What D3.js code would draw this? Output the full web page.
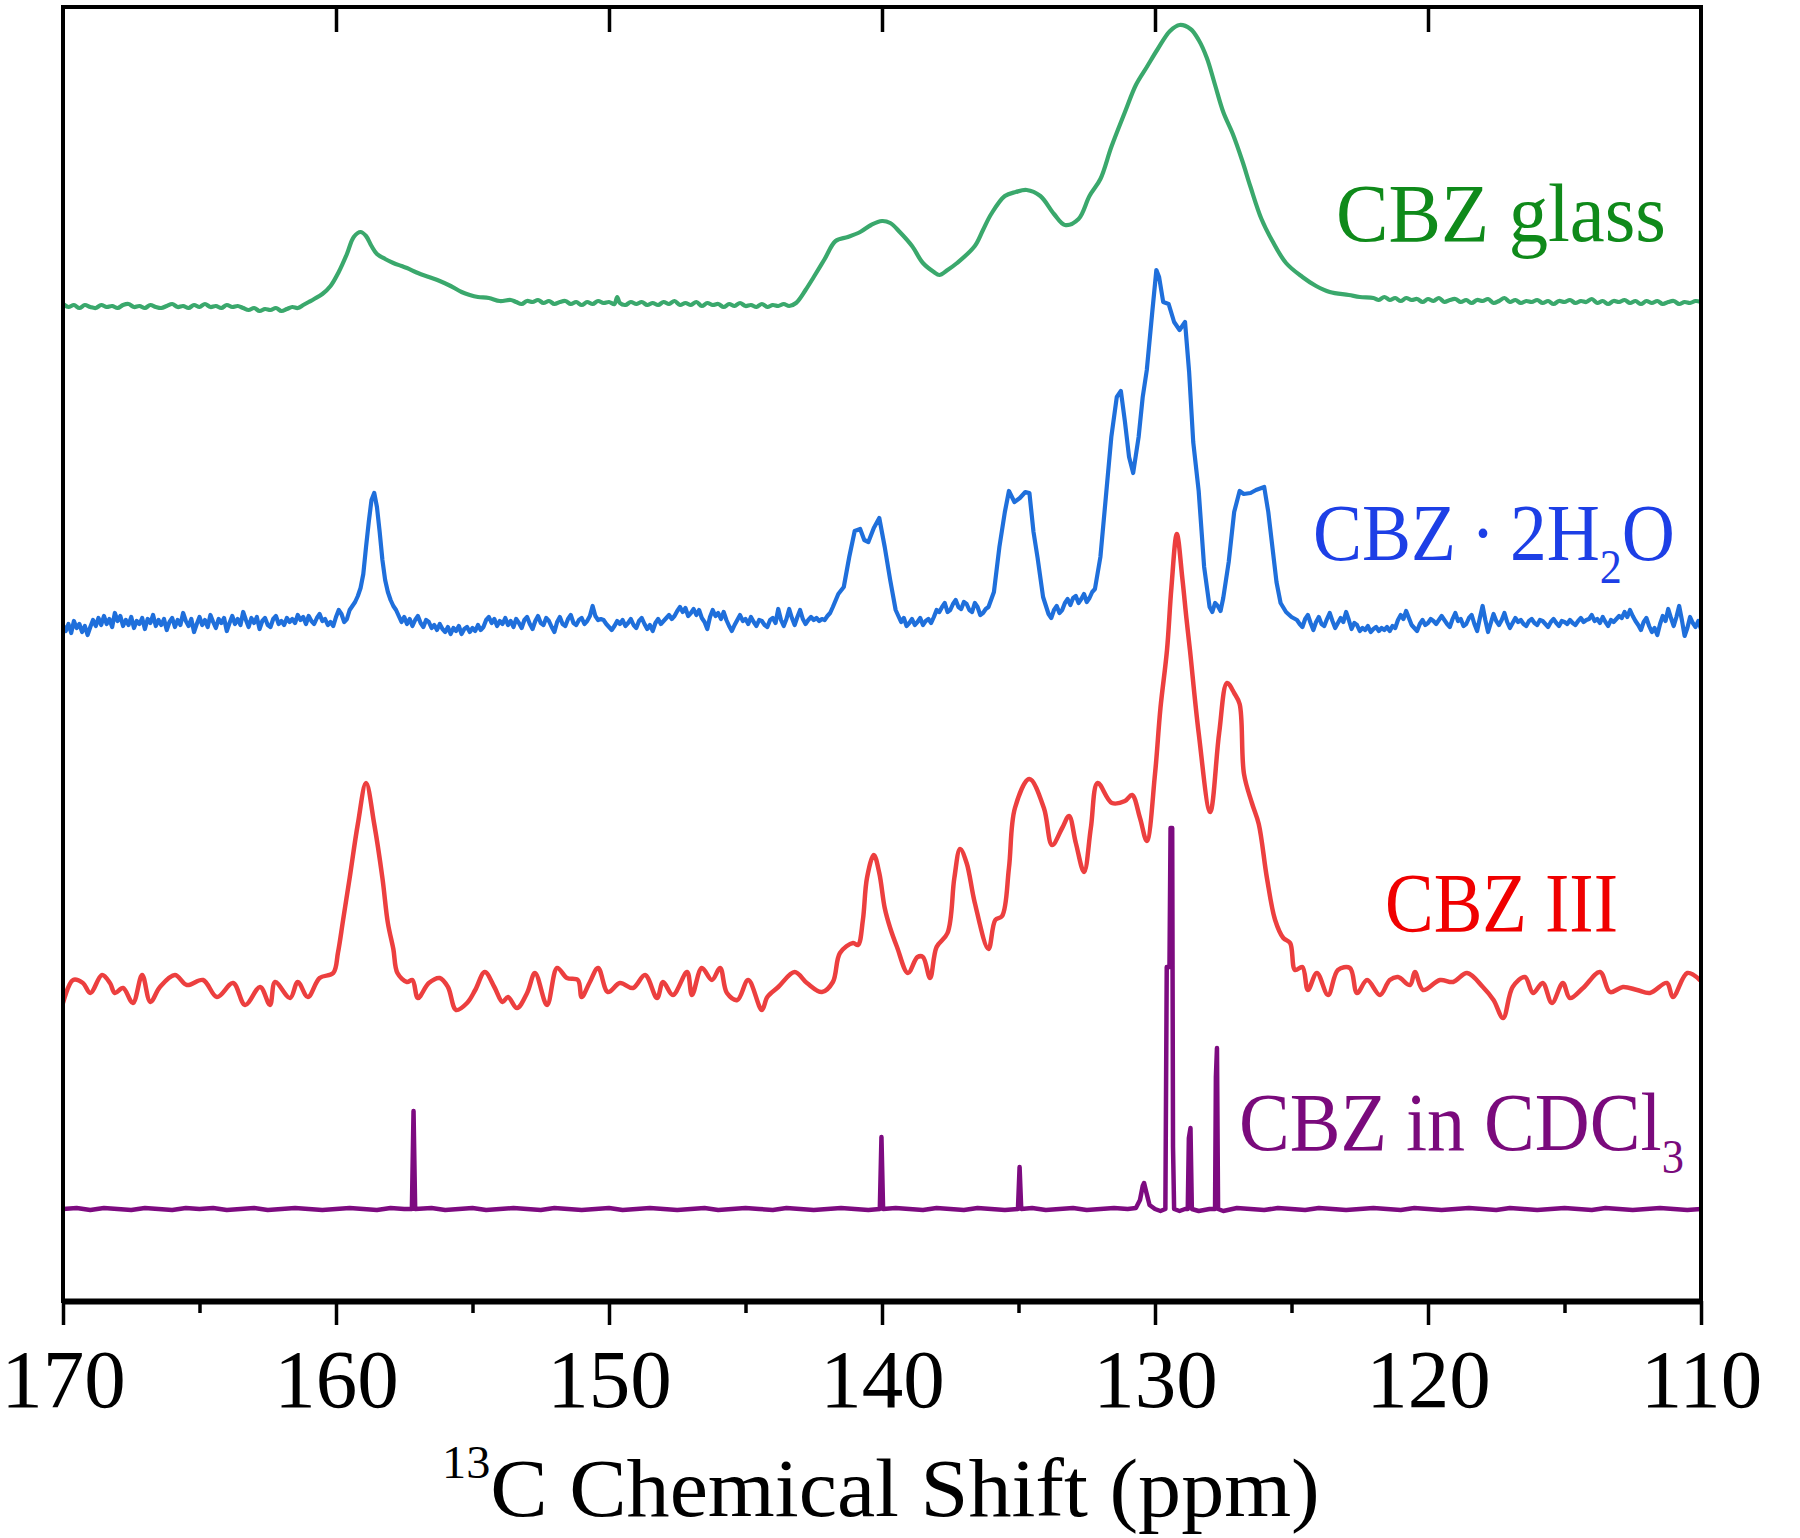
<!DOCTYPE html>
<html><head><meta charset="utf-8">
<script src="https://cdn.jsdelivr.net/npm/d3@7"></script>
<style>body{margin:0;background:#fff}</style>
</head><body>
<svg id="chart" width="1800" height="1538"></svg>
<script>
// ---------------- DATA ----------------
const xTicks = [170, 160, 150, 140, 130, 120, 110];
const xMinorTicks = [165, 155, 145, 135, 125, 115];
const xTopTicks = [160, 150, 140, 130, 120];
const axisTitleSup = "13";
const axisTitleMain = "C Chemical Shift (ppm)";

const seriesNames = ["CBZ glass", "CBZ·2H2O", "CBZ III", "CBZ in CDCl3"];
const seriesOffsets = [99.7, 67.9, 31.3, 9.2];   // vertical stacking offsets (a.u.)

// [ppm, intensity a.u.]
const glassData = [[170.0,0.0],[169.8,-0.3],[169.6,-0.1],[169.4,-0.4],[169.2,-0.1],[169.0,-0.3],[168.8,-0.4],[168.6,-0.1],[168.4,-0.3],[168.2,-0.2],[168.0,-0.4],[167.8,-0.1],[167.6,0.0],[167.4,-0.3],[167.2,-0.2],[167.0,-0.4],[166.8,-0.1],[166.6,-0.3],[166.4,-0.4],[166.2,-0.2],[166.0,0.0],[165.8,-0.3],[165.6,-0.2],[165.4,-0.4],[165.2,-0.1],[165.0,-0.3],[164.8,0.0],[164.6,-0.3],[164.4,-0.2],[164.2,-0.4],[164.0,-0.1],[163.8,-0.3],[163.6,-0.2],[163.4,-0.4],[163.2,-0.6],[163.0,-0.4],[162.8,-0.7],[162.6,-0.5],[162.4,-0.6],[162.2,-0.4],[162.0,-0.7],[161.8,-0.5],[161.6,-0.3],[161.4,-0.4],[161.2,-0.1],[161.0,0.2],[160.8,0.5],[160.5,1.0],[160.2,1.8],[159.9,3.2],[159.6,5.0],[159.35,6.7],[159.1,7.2],[158.9,6.8],[158.7,5.8],[158.5,5.0],[158.2,4.5],[157.9,4.1],[157.6,3.8],[157.4,3.6],[157.0,3.1],[156.6,2.7],[156.2,2.3],[155.8,1.8],[155.4,1.2],[155.1,0.9],[154.8,0.7],[154.4,0.6],[154.0,0.3],[153.6,0.4],[153.4,0.2],[153.2,0.0],[153.0,0.3],[152.8,0.2],[152.6,0.4],[152.4,0.1],[152.2,0.3],[152.0,0.0],[151.8,0.2],[151.6,0.3],[151.4,0.0],[151.2,0.2],[151.0,-0.1],[150.8,0.2],[150.6,0.0],[150.4,0.3],[150.2,0.1],[150.0,0.2],[149.8,0.0],[149.7,0.7],[149.6,0.1],[149.4,-0.1],[149.2,0.2],[149.0,0.0],[148.8,0.2],[148.6,-0.1],[148.4,0.1],[148.2,-0.1],[148.0,0.2],[147.8,0.0],[147.6,0.3],[147.4,-0.1],[147.2,0.1],[147.0,-0.1],[146.8,0.2],[146.6,-0.2],[146.4,0.1],[146.2,-0.1],[146.0,0.0],[145.8,-0.3],[145.6,0.0],[145.4,-0.2],[145.2,0.1],[145.0,-0.2],[144.8,-0.1],[144.6,-0.3],[144.4,0.0],[144.2,-0.3],[144.0,-0.1],[143.8,-0.2],[143.6,0.0],[143.4,-0.2],[143.15,0.1],[142.8,1.4],[142.5,2.7],[142.1,4.5],[141.7,6.3],[141.25,6.7],[140.8,7.2],[140.4,7.9],[140.0,8.3],[139.7,8.1],[139.35,7.2],[138.9,5.8],[138.5,4.1],[138.1,3.2],[137.9,2.9],[137.6,3.4],[137.25,4.1],[136.6,5.8],[136.3,7.4],[136.0,9.0],[135.5,10.8],[135.1,11.2],[134.7,11.4],[134.2,10.8],[133.7,9.0],[133.3,7.9],[132.8,8.5],[132.4,10.8],[132.0,12.5],[131.6,15.7],[131.1,19.2],[130.7,21.9],[130.3,23.7],[129.9,25.5],[129.45,27.3],[129.1,27.9],[128.7,27.5],[128.4,26.4],[128.1,24.6],[127.8,21.9],[127.5,19.2],[127.15,17.0],[126.8,14.3],[126.5,11.7],[126.1,8.5],[125.7,6.3],[125.2,4.1],[124.6,2.7],[124.1,1.8],[123.6,1.2],[122.9,0.9],[122.5,0.7],[122.0,0.6],[121.8,0.4],[121.6,0.7],[121.4,0.4],[121.2,0.6],[121.0,0.3],[120.8,0.6],[120.6,0.4],[120.4,0.5],[120.2,0.2],[120.0,0.5],[119.8,0.3],[119.6,0.6],[119.4,0.2],[119.2,0.4],[119.0,0.5],[118.8,0.2],[118.6,0.4],[118.4,0.1],[118.2,0.4],[118.0,0.3],[117.8,0.5],[117.6,0.1],[117.4,0.3],[117.2,0.6],[117.0,0.2],[116.8,0.4],[116.6,0.1],[116.4,0.3],[116.2,0.2],[116.0,0.4],[115.8,0.1],[115.6,0.3],[115.4,0.0],[115.2,0.3],[115.0,0.2],[114.8,0.4],[114.6,0.1],[114.4,0.3],[114.2,0.2],[114.0,0.5],[113.8,0.1],[113.6,0.3],[113.4,0.0],[113.2,0.3],[113.0,0.2],[112.8,0.4],[112.6,0.1],[112.4,0.3],[112.2,0.0],[112.0,0.3],[111.8,0.1],[111.6,0.3],[111.4,0.0],[111.2,0.2],[111.0,0.3],[110.8,0.0],[110.6,0.2],[110.4,0.1],[110.2,0.3],[110.0,0.2]];

const hydrateData = [[170.0,-0.3],[169.9,-0.9],[169.8,-0.2],[169.7,-1.1],[169.6,0.1],[169.5,-0.6],[169.4,-0.2],[169.3,-1.0],[169.2,-0.4],[169.1,-1.3],[169.0,-0.5],[168.9,0.2],[168.8,-0.4],[168.7,0.4],[168.6,-0.3],[168.5,0.6],[168.4,-0.2],[168.3,0.3],[168.2,-0.5],[168.1,0.9],[168.0,0.1],[167.9,0.6],[167.8,-0.4],[167.7,0.2],[167.6,-0.3],[167.5,0.5],[167.4,-0.6],[167.3,0.1],[167.2,-0.2],[167.1,0.4],[167.0,-0.7],[166.9,0.3],[166.8,-0.1],[166.7,0.7],[166.6,-0.4],[166.5,0.2],[166.4,-0.3],[166.3,0.3],[166.2,-0.8],[166.1,0.0],[166.0,0.4],[165.9,-0.5],[165.8,0.2],[165.7,-0.3],[165.6,0.9],[165.5,0.1],[165.4,-0.4],[165.3,0.3],[165.2,-1.0],[165.1,-0.2],[165.0,0.5],[164.9,-0.3],[164.8,0.2],[164.7,-0.5],[164.6,0.7],[164.5,0.0],[164.4,-0.6],[164.3,0.3],[164.2,-0.1],[164.1,0.4],[164.0,-0.9],[163.9,-0.1],[163.8,0.6],[163.7,-0.2],[163.6,0.3],[163.5,-0.3],[163.4,1.0],[163.3,0.2],[163.2,-0.5],[163.1,0.4],[163.0,-0.1],[162.9,0.5],[162.8,-0.7],[162.7,0.1],[162.6,0.4],[162.5,-0.3],[162.4,-0.5],[162.3,0.3],[162.2,0.6],[162.1,-0.2],[162.0,0.1],[161.9,-0.3],[161.8,0.4],[161.7,0.0],[161.6,0.3],[161.5,-0.1],[161.4,0.7],[161.3,0.2],[161.2,0.5],[161.1,-0.2],[161.0,0.6],[160.9,0.1],[160.8,-0.2],[160.7,0.4],[160.6,0.8],[160.5,0.1],[160.4,0.3],[160.3,-0.3],[160.2,0.0],[160.1,-0.4],[160.0,0.5],[159.9,1.2],[159.8,0.8],[159.7,0.0],[159.6,0.3],[159.5,1.2],[159.4,1.6],[159.3,2.0],[159.2,2.6],[159.1,3.4],[159.0,4.8],[158.9,7.5],[158.8,10.0],[158.7,12.2],[158.6,12.9],[158.5,11.5],[158.4,9.0],[158.3,6.2],[158.2,4.2],[158.1,3.0],[158.0,2.2],[157.9,1.6],[157.8,1.2],[157.7,0.6],[157.6,0.0],[157.5,0.5],[157.4,-0.2],[157.3,0.3],[157.2,-0.4],[157.1,0.2],[157.0,0.6],[156.9,-0.1],[156.8,-0.5],[156.7,0.2],[156.6,0.0],[156.5,-0.6],[156.4,-0.3],[156.3,-0.8],[156.2,-0.2],[156.1,-0.7],[156.0,-1.0],[155.9,-0.5],[155.8,-1.2],[155.7,-0.6],[155.6,-0.9],[155.5,-0.4],[155.4,-1.2],[155.3,-0.7],[155.2,-0.5],[155.1,-1.0],[155.0,-0.6],[154.9,-0.9],[154.8,-0.3],[154.7,-0.8],[154.6,-0.5],[154.5,0.2],[154.4,0.5],[154.3,-0.1],[154.2,0.3],[154.1,-0.4],[154.0,0.1],[153.9,-0.2],[153.8,0.4],[153.7,-0.3],[153.6,0.1],[153.5,-0.5],[153.4,0.3],[153.3,-0.1],[153.2,-0.6],[153.1,0.2],[153.0,0.5],[152.9,-0.2],[152.8,-0.7],[152.7,0.1],[152.6,0.6],[152.5,-0.1],[152.4,-0.3],[152.3,0.4],[152.2,0.1],[152.1,-0.5],[152.0,-1.0],[151.9,0.0],[151.8,0.5],[151.7,-0.2],[151.6,-0.4],[151.5,0.3],[151.4,0.7],[151.3,-0.1],[151.2,-0.3],[151.1,0.2],[151.0,0.4],[150.9,-0.2],[150.8,0.1],[150.7,0.6],[150.6,1.6],[150.5,0.6],[150.4,0.2],[150.3,0.3],[150.2,0.2],[150.1,-0.2],[150.0,-0.5],[149.9,-0.8],[149.8,-0.4],[149.7,0.1],[149.6,-0.2],[149.5,0.2],[149.4,-0.4],[149.3,-0.1],[149.2,0.3],[149.1,-0.3],[149.0,-0.6],[148.9,0.1],[148.8,0.4],[148.7,-0.2],[148.6,-0.7],[148.5,-0.3],[148.4,-0.9],[148.3,-0.1],[148.2,0.3],[148.1,-0.2],[148.0,0.1],[147.9,0.4],[147.8,0.7],[147.7,0.3],[147.6,0.6],[147.5,1.1],[147.4,1.5],[147.3,1.0],[147.2,1.4],[147.1,0.6],[147.0,0.9],[146.9,1.3],[146.8,0.7],[146.7,1.2],[146.6,0.4],[146.5,0.0],[146.4,-0.7],[146.3,0.5],[146.2,1.2],[146.1,0.6],[146.0,0.9],[145.9,0.3],[145.8,1.0],[145.7,0.2],[145.6,-0.4],[145.5,-0.9],[145.4,-0.3],[145.3,0.2],[145.2,0.7],[145.1,0.1],[145.0,0.3],[144.9,-0.2],[144.8,0.5],[144.7,0.0],[144.6,-0.4],[144.5,0.2],[144.4,0.1],[144.3,-0.3],[144.2,-0.5],[144.1,0.2],[144.0,0.4],[143.9,-0.1],[143.8,1.3],[143.7,0.2],[143.6,-0.4],[143.5,0.3],[143.4,1.3],[143.3,0.4],[143.2,-0.3],[143.1,0.5],[143.0,1.2],[142.9,0.3],[142.8,-0.2],[142.7,0.2],[142.6,0.5],[142.5,0.2],[142.4,0.4],[142.3,0.1],[142.2,0.3],[142.1,0.2],[142.0,0.6],[141.9,0.9],[141.8,1.5],[141.6,2.8],[141.4,3.5],[141.2,6.5],[141.0,9.1],[140.8,9.3],[140.65,8.2],[140.5,8.0],[140.3,9.4],[140.1,10.4],[139.9,7.5],[139.7,4.2],[139.5,1.2],[139.4,0.6],[139.3,0.0],[139.2,0.4],[139.1,-0.4],[139.0,-0.1],[138.9,0.3],[138.8,-0.3],[138.7,0.0],[138.6,0.4],[138.5,-0.3],[138.4,0.1],[138.3,0.3],[138.2,-0.1],[138.1,0.5],[138.0,1.2],[137.9,1.0],[137.8,1.5],[137.7,1.9],[137.6,1.0],[137.5,1.2],[137.4,1.8],[137.3,2.2],[137.2,1.5],[137.1,1.3],[137.0,2.0],[136.9,1.8],[136.8,1.2],[136.7,1.0],[136.6,1.9],[136.5,1.5],[136.4,0.7],[136.3,0.9],[136.2,1.3],[136.1,1.5],[135.9,3.0],[135.7,7.5],[135.5,11.0],[135.35,13.1],[135.15,12.0],[134.95,12.4],[134.75,13.0],[134.6,12.9],[134.45,9.0],[134.3,6.4],[134.1,2.5],[133.9,0.8],[133.8,0.4],[133.7,1.2],[133.6,1.6],[133.5,0.9],[133.4,1.2],[133.3,1.9],[133.2,2.3],[133.1,1.7],[133.0,2.4],[132.9,2.6],[132.8,1.9],[132.7,2.3],[132.6,2.8],[132.5,2.0],[132.4,2.4],[132.3,3.0],[132.2,3.3],[132.0,6.5],[131.8,12.5],[131.6,18.5],[131.4,22.5],[131.25,23.1],[131.1,20.0],[130.95,16.5],[130.8,14.9],[130.6,18.5],[130.45,22.5],[130.3,25.2],[130.1,31.0],[129.95,35.2],[129.85,34.5],[129.7,32.0],[129.5,31.8],[129.3,30.0],[129.1,29.2],[128.9,30.0],[128.75,25.0],[128.6,18.0],[128.4,13.1],[128.2,5.5],[128.0,1.5],[127.9,1.0],[127.8,1.9],[127.7,1.6],[127.6,1.1],[127.5,2.4],[127.3,6.0],[127.1,11.0],[126.9,13.1],[126.75,12.8],[126.5,12.9],[126.3,13.2],[126.0,13.5],[125.85,11.0],[125.7,7.5],[125.55,4.0],[125.4,1.9],[125.2,1.0],[125.0,0.5],[124.8,0.2],[124.7,-0.2],[124.6,-0.5],[124.5,0.3],[124.4,0.7],[124.3,-0.1],[124.2,-0.8],[124.1,0.0],[124.0,0.5],[123.9,-0.2],[123.8,-0.4],[123.7,0.3],[123.6,0.9],[123.5,0.1],[123.4,-0.6],[123.3,-0.1],[123.2,0.4],[123.1,0.0],[123.0,1.0],[122.9,0.2],[122.8,-0.7],[122.7,-0.1],[122.6,-0.3],[122.5,-0.9],[122.4,-0.6],[122.3,-0.8],[122.2,-0.4],[122.1,-1.0],[122.0,-0.7],[121.9,-0.5],[121.8,-0.9],[121.7,-0.6],[121.6,-0.8],[121.5,-0.5],[121.4,-0.9],[121.3,-0.4],[121.2,-0.6],[121.1,0.2],[121.0,0.7],[120.9,0.3],[120.8,1.1],[120.7,0.4],[120.6,-0.3],[120.5,-0.6],[120.4,-0.9],[120.3,-0.2],[120.2,0.2],[120.1,-0.3],[120.0,-0.1],[119.9,0.3],[119.8,0.1],[119.7,-0.2],[119.6,0.2],[119.5,0.6],[119.4,0.2],[119.3,-0.2],[119.2,-0.5],[119.1,0.3],[119.0,0.9],[118.9,0.1],[118.8,0.3],[118.7,-0.4],[118.6,-0.2],[118.5,0.4],[118.4,0.7],[118.3,-0.2],[118.2,-0.9],[118.1,0.4],[118.0,1.6],[117.9,0.2],[117.8,-1.0],[117.7,-0.1],[117.6,0.8],[117.5,0.1],[117.4,-0.3],[117.3,0.2],[117.2,0.9],[117.1,0.0],[117.0,-0.6],[116.9,-0.1],[116.8,0.4],[116.7,0.0],[116.6,0.2],[116.5,-0.2],[116.4,-0.4],[116.3,0.1],[116.2,0.3],[116.1,-0.1],[116.0,-0.3],[115.9,0.2],[115.8,0.1],[115.7,-0.2],[115.6,-0.5],[115.5,0.0],[115.4,0.3],[115.3,-0.1],[115.2,-0.4],[115.1,0.1],[115.0,0.0],[114.9,-0.2],[114.8,0.2],[114.7,-0.1],[114.6,-0.3],[114.5,0.1],[114.4,0.4],[114.3,0.0],[114.2,0.2],[114.1,0.3],[114.0,0.7],[113.9,0.1],[113.8,0.3],[113.7,-0.1],[113.6,0.5],[113.5,0.0],[113.4,-0.4],[113.3,0.2],[113.2,0.0],[113.1,0.3],[113.0,0.6],[112.9,0.4],[112.8,1.0],[112.7,0.5],[112.6,1.2],[112.5,0.6],[112.4,0.1],[112.3,-0.3],[112.2,-0.8],[112.1,0.0],[112.0,0.4],[111.9,-0.4],[111.8,-1.0],[111.7,-0.6],[111.6,-1.3],[111.5,-0.2],[111.4,0.6],[111.3,0.1],[111.2,1.3],[111.1,0.4],[111.0,-0.4],[110.9,0.5],[110.8,1.6],[110.7,0.2],[110.6,-1.4],[110.5,-0.6],[110.4,0.5],[110.3,-0.1],[110.2,-0.5],[110.1,0.1],[110.0,-0.7]];

const formIIIData = [[170.0,-1.5],[169.63,0.8],[169.27,0.5],[169.0,-0.5],[168.57,1.3],[168.28,0.5],[168.1,-0.5],[167.8,0.0],[167.44,-1.5],[167.1,1.3],[166.8,-1.4],[166.45,0.1],[165.9,1.3],[165.46,0.3],[164.87,0.8],[164.36,-0.9],[163.77,0.5],[163.33,-1.7],[162.78,0.1],[162.42,-1.7],[162.23,0.6],[161.68,-1.0],[161.4,0.6],[161.03,-0.9],[160.6,1.0],[160.1,1.5],[159.93,3.5],[159.74,6.8],[159.5,11.0],[159.2,16.4],[158.9,20.5],[158.6,16.4],[158.3,11.0],[158.1,6.5],[157.9,3.9],[157.75,1.5],[157.4,0.6],[157.2,0.8],[157.0,-1.0],[156.6,0.5],[156.2,1.0],[155.9,0.1],[155.6,-2.2],[155.2,-1.5],[154.9,-0.2],[154.55,1.6],[154.2,0.1],[153.9,-1.4],[153.7,-0.9],[153.37,-2.0],[153.0,-0.5],[152.71,1.5],[152.27,-1.7],[151.9,2.0],[151.54,1.0],[151.14,0.8],[151.0,-0.9],[150.7,0.6],[150.4,2.0],[150.04,-0.4],[149.6,0.5],[149.12,0.0],[148.68,1.3],[148.24,-1.0],[148.02,0.6],[147.66,-0.7],[147.14,1.6],[146.96,-0.7],[146.6,2.0],[146.23,0.8],[145.93,2.0],[145.68,-0.5],[145.3,-1.2],[144.9,0.8],[144.4,-2.2],[144.2,-0.9],[143.8,0.1],[143.2,1.6],[142.75,0.5],[142.2,-0.4],[141.8,0.6],[141.54,3.5],[141.06,4.5],[140.88,4.3],[140.7,6.8],[140.55,11.0],[140.3,13.3],[140.1,11.5],[139.9,8.0],[139.7,6.0],[139.45,4.1],[139.05,1.5],[138.7,3.1],[138.5,3.1],[138.24,1.0],[138.0,4.1],[137.6,5.5],[137.35,11.0],[137.14,13.9],[136.9,12.5],[136.6,8.5],[136.1,3.9],[135.85,6.8],[135.6,7.2],[135.35,12.0],[135.13,18.0],[134.6,20.9],[134.07,18.0],[133.77,14.3],[133.4,16.0],[133.15,17.2],[132.9,14.5],[132.6,11.6],[132.35,16.0],[132.1,20.5],[131.58,18.5],[131.1,18.7],[130.84,19.3],[130.55,17.0],[130.3,14.7],[130.0,21.4],[129.8,28.0],[129.56,33.8],[129.4,40.0],[129.2,45.4],[129.0,41.0],[128.85,37.0],[128.72,33.8],[128.4,25.5],[127.98,17.6],[127.65,25.5],[127.36,30.5],[127.1,29.5],[126.9,28.4],[126.74,21.4],[126.45,18.5],[126.2,16.4],[125.9,11.0],[125.6,6.8],[125.3,5.0],[125.05,4.5],[124.87,1.8],[124.6,2.1],[124.4,-0.2],[124.07,1.5],[123.66,-0.7],[123.3,1.8],[122.86,2.0],[122.6,-0.5],[122.23,0.8],[121.76,-0.7],[121.4,0.8],[121.1,1.1],[120.66,0.3],[120.48,1.6],[120.18,-0.2],[119.56,0.8],[119.08,0.6],[118.57,1.5],[117.99,0.1],[117.6,-1.2],[117.25,-3.0],[116.9,0.1],[116.45,1.1],[116.15,-0.5],[115.8,0.5],[115.46,-1.5],[115.06,0.5],[114.8,-1.0],[114.32,0.0],[113.7,1.6],[113.33,-0.4],[112.86,0.1],[112.34,-0.2],[111.87,-0.5],[111.25,0.5],[111.03,-0.9],[110.5,1.5],[110.04,0.8]];

const solutionData = [[170.0,0.0],[169.5,0.1],[169.0,-0.1],[168.5,0.1],[168.0,0.0],[167.5,-0.1],[167.0,0.1],[166.5,0.0],[166.0,-0.1],[165.5,0.1],[165.0,0.0],[164.5,0.1],[164.0,-0.1],[163.5,0.0],[163.0,0.1],[162.5,-0.1],[162.0,0.0],[161.5,0.1],[161.0,0.0],[160.5,-0.1],[160.0,0.0],[159.5,0.1],[159.0,0.0],[158.5,-0.1],[158.0,0.1],[157.5,0.0],[157.22,0.0],[157.16,9.8],[157.1,0.0],[156.5,0.1],[156.0,-0.1],[155.5,0.0],[155.0,0.1],[154.5,-0.1],[154.0,0.0],[153.5,0.1],[153.0,0.0],[152.5,-0.1],[152.0,0.1],[151.5,0.0],[151.0,-0.1],[150.5,0.0],[150.0,0.1],[149.5,-0.1],[149.0,0.0],[148.5,0.1],[148.0,0.0],[147.5,-0.1],[147.0,0.0],[146.5,0.1],[146.0,-0.1],[145.5,0.0],[145.0,0.1],[144.5,0.0],[144.0,-0.1],[143.5,0.1],[143.0,0.0],[142.5,-0.1],[142.0,0.0],[141.5,0.1],[141.0,0.0],[140.5,-0.1],[140.08,0.0],[140.02,7.2],[139.96,0.0],[139.5,0.1],[139.0,0.0],[138.5,-0.1],[138.0,0.1],[137.5,0.0],[137.0,-0.1],[136.5,0.1],[136.0,0.0],[135.5,-0.1],[135.02,0.0],[134.96,4.2],[134.9,0.0],[134.5,0.1],[134.0,-0.1],[133.5,0.0],[133.0,0.1],[132.5,-0.1],[132.0,0.0],[131.5,0.1],[131.0,0.0],[130.7,0.1],[130.55,0.9],[130.45,2.3],[130.4,2.6],[130.33,1.8],[130.2,0.4],[130.0,0.0],[129.8,-0.2],[129.62,0.0],[129.57,24.2],[129.47,24.2],[129.43,38.1],[129.37,38.1],[129.34,6.2],[129.3,0.0],[129.1,-0.2],[128.9,0.0],[128.8,0.0],[128.76,7.1],[128.7,8.1],[128.65,0.0],[128.4,-0.2],[128.0,0.0],[127.8,0.0],[127.77,13.2],[127.73,16.1],[127.69,0.0],[127.5,-0.2],[127.0,0.1],[126.5,0.0],[126.0,-0.1],[125.5,0.1],[125.0,0.0],[124.5,-0.1],[124.0,0.1],[123.5,0.0],[123.0,-0.1],[122.5,0.0],[122.0,0.1],[121.5,0.0],[121.0,-0.1],[120.5,0.1],[120.0,0.0],[119.5,-0.1],[119.0,0.0],[118.5,0.1],[118.0,0.0],[117.5,-0.1],[117.0,0.1],[116.5,0.0],[116.0,-0.1],[115.5,0.0],[115.0,0.1],[114.5,0.0],[114.0,-0.1],[113.5,0.1],[113.0,0.0],[112.5,-0.1],[112.0,0.0],[111.5,0.1],[111.0,0.0],[110.5,-0.1],[110.0,0.0]];

// ---------------- LAYOUT / STYLE ----------------
const W = 1800, H = 1538;
const plot = {left: 63, right: 1701, top: 7, bottom: 1301};
const traceColors = ["#3aa86c", "#1f6fdb", "#ec3f3f", "#7d0b80"];
const labelColors = ["#0f8a1a", "#1d3fe6", "#f00000", "#7a0a7c"];
const FONT = "'Liberation Serif', 'Times New Roman', serif";

const svg = d3.select("#chart");
svg.append("rect").attr("width", W).attr("height", H).attr("fill", "#fff");

const x = d3.scaleLinear().domain([170, 110]).range([plot.left, plot.right]);
const y = d3.scaleLinear().domain([0, 129.5]).range([plot.bottom, plot.top - 1]);

svg.append("clipPath").attr("id", "clip").append("rect")
  .attr("x", plot.left).attr("y", plot.top).attr("width", plot.right - plot.left).attr("height", plot.bottom - plot.top);

const allData = [glassData, hydrateData, formIIIData, solutionData];
const widths = [4.2, 4.2, 4.5, 4.5];
const curves = [d3.curveCatmullRom.alpha(0.5), d3.curveLinear, d3.curveCatmullRom.alpha(0.5), d3.curveLinear];
const gLines = svg.append("g").attr("clip-path", "url(#clip)");
allData.forEach((data, i) => {
  const line = d3.line().curve(curves[i]).x(d => x(d[0])).y(d => y(d[1] + seriesOffsets[i]));
  gLines.append("path").datum(data)
    .attr("d", line).attr("fill", "none")
    .attr("stroke", traceColors[i]).attr("stroke-width", widths[i])
    .attr("stroke-linejoin", "round").attr("stroke-linecap", "round");
});

// frame
svg.append("rect").attr("x", plot.left).attr("y", plot.top)
  .attr("width", plot.right - plot.left).attr("height", plot.bottom - plot.top)
  .attr("fill", "none").attr("stroke", "#000").attr("stroke-width", 4);

// top inward ticks
const topAxis = svg.append("g").attr("transform", `translate(0,${plot.top})`)
  .call(d3.axisTop(x).tickValues(xTopTicks).tickSize(-25).tickFormat(""));
topAxis.select(".domain").remove();
topAxis.selectAll(".tick line").attr("stroke", "#000").attr("stroke-width", 3.5);

// bottom minor ticks
const minorAxis = svg.append("g").attr("transform", `translate(0,${plot.bottom})`)
  .call(d3.axisBottom(x).tickValues(xMinorTicks).tickSize(12).tickFormat(""));
minorAxis.select(".domain").remove();
minorAxis.selectAll(".tick line").attr("stroke", "#000").attr("stroke-width", 3.5);

// bottom major axis
const bottomAxis = svg.append("g").attr("transform", `translate(0,${plot.bottom})`)
  .call(d3.axisBottom(x).tickValues(xTicks).tickSize(24).tickSizeOuter(0).tickFormat(d3.format("d")));
bottomAxis.select(".domain").attr("stroke", "#000").attr("stroke-width", 6);
bottomAxis.selectAll(".tick line").attr("stroke", "#000").attr("stroke-width", 3.5);
bottomAxis.selectAll(".tick text")
  .attr("y", 1407 - plot.bottom).attr("dy", 0)
  .attr("font-family", FONT).attr("font-size", 83).attr("fill", "#000");

// axis title
const title = svg.append("text").attr("font-family", FONT).attr("fill", "#000").attr("font-size", 82);
title.append("tspan").attr("font-size", 46).attr("dy", -38).text(axisTitleSup);
title.append("tspan").attr("dy", 38).text(axisTitleMain);
fitText(title, 442, 1516, 878);

// series labels
const labelSpecs = [
  {i: 0, x: 1336, y: 241, w: 330, size: 82, parts: [["CBZ glass", 0]]},
  {i: 1, x: 1313, y: 560, w: 362, size: 80, parts: [["CBZ\u2009\u00B7\u20092H", 0], ["2", 1], ["O", 0]]},
  {i: 2, x: 1385, y: 932, w: 233, size: 84, parts: [["CBZ III", 0]]},
  {i: 3, x: 1239, y: 1150, w: 445, size: 82, parts: [["CBZ in CDCl", 0], ["3", 1]]}
];
labelSpecs.forEach(s => {
  const t = svg.append("text").attr("font-family", FONT).attr("font-size", s.size)
    .attr("fill", labelColors[s.i]).attr("data-series", seriesNames[s.i]);
  let shifted = false;
  s.parts.forEach(([txt, sub]) => {
    const ts = t.append("tspan").text(txt);
    if (sub) { ts.attr("font-size", 48).attr("dy", 23); shifted = true; }
    else if (shifted) { ts.attr("dy", -23); shifted = false; }
  });
  fitText(t, s.x, s.y, s.w);
});

function fitText(sel, left, baseline, targetW) {
  sel.attr("x", 0).attr("y", 0);
  const bb = sel.node().getBBox();
  const sx = targetW / bb.width;
  sel.attr("transform", `translate(${left - bb.x * sx},${baseline}) scale(${sx},1)`);
}
</script>
</body></html>
